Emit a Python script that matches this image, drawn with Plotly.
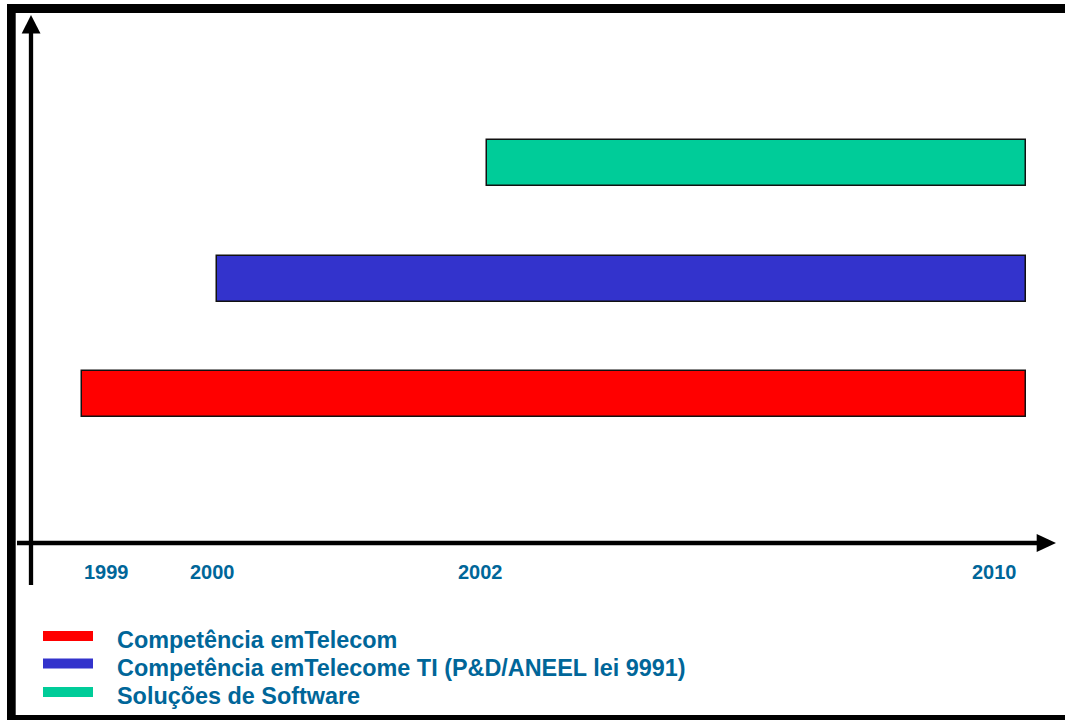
import numpy as np
import plotly.graph_objects as go

# ---------------- data ----------------
series_names = [
    "Competência emTelecom",
    "Competência emTelecome TI (P&D/ANEEL lei 9991)",
    "Soluções de Software",
]
start_years = [1999, 2000, 2002]
end_years = [2010, 2010, 2010]
bar_colors = ["#FF0000", "#3333CC", "#00CC99"]
tick_years = [1999, 2000, 2002, 2010]

# ---------------- scale (timeline compressed after 2002) ----------------
SCALE_YEARS = [1999, 2002, 2010]
SCALE_UNITS = [0, 3, 7]


def t(year):
    return float(np.interp(year, SCALE_YEARS, SCALE_UNITS))


W, H = 1065, 720
TEXT_COLOR = "#006699"
FONT = "Liberation Sans, Arial, sans-serif"


def px(x):
    return x / W


def py(y):
    return 1 - y / H


fig = go.Figure()

for i, (name, s, e, c) in enumerate(zip(series_names, start_years, end_years, bar_colors)):
    fig.add_trace(go.Bar(
        y=[i], x=[t(e) - t(s)], base=[t(s)], orientation="h",
        width=0.4, name=name, showlegend=False,
        marker=dict(color=c, line=dict(color="#111111", width=1.5)),
        hovertemplate=f"{name}<br>{s}–{e}<extra></extra>",
    ))

shapes = []
# outer frame (left, top, bottom)
for x0, y0, x1, y1 in [(7, 4, 15.7, 720), (7, 4, 1065, 13), (7, 715, 1065, 720)]:
    shapes.append(dict(type="rect", xref="paper", yref="paper",
                       x0=px(x0), x1=px(x1), y0=py(y0), y1=py(y1),
                       fillcolor="black", line=dict(width=0), layer="above"))
# vertical axis line + arrow head
shapes.append(dict(type="line", xref="paper", yref="paper",
                   x0=px(31), x1=px(31), y0=py(585), y1=py(32),
                   line=dict(color="black", width=4.3)))
shapes.append(dict(type="path", xref="paper", yref="paper",
                   path=f"M {px(31)},{py(15)} L {px(21.7)},{py(33.5)} L {px(40.5)},{py(33.5)} Z",
                   fillcolor="black", line=dict(width=0)))
# horizontal axis line + arrow head
shapes.append(dict(type="line", xref="paper", yref="paper",
                   x0=px(17), x1=px(1038), y0=py(543), y1=py(543),
                   line=dict(color="black", width=4.5)))
shapes.append(dict(type="path", xref="paper", yref="paper",
                   path=f"M {px(1056)},{py(543)} L {px(1036.7)},{py(534)} L {px(1036.7)},{py(552)} Z",
                   fillcolor="black", line=dict(width=0)))

annotations = []
# year labels
label_style = {1999: ("left", 0), 2000: ("center", -4), 2002: ("center", -6), 2010: ("right", -7)}
for yr in tick_years:
    anchor, shift = label_style[yr]
    annotations.append(dict(
        x=t(yr), xref="x", y=py(571.5), yref="paper",
        text=str(yr), showarrow=False, xanchor=anchor, yanchor="middle", xshift=shift,
        font=dict(family=FONT, size=20, color=TEXT_COLOR, weight="bold"),
    ))

# legend (swatch + text)
legend_rows = [636, 663.5, 692]
for name, c, yc in zip(series_names, bar_colors, legend_rows):
    shapes.append(dict(type="rect", xref="paper", yref="paper",
                       x0=px(43), x1=px(93), y0=py(yc - 5), y1=py(yc + 5),
                       fillcolor=c, line=dict(width=0)))
    annotations.append(dict(
        x=px(114.5), xref="paper", y=py(yc + 4), yref="paper",
        text=name, showarrow=False, xanchor="left", yanchor="middle",
        font=dict(family=FONT, size=23.4, color=TEXT_COLOR, weight="bold"),
    ))

X0, SX = 82.0, 134.9
x_left = -X0 / SX
x_right = (W - X0) / SX
Y1, SY = 278.7, 115.55
fig.update_layout(
    width=W, height=H,
    margin=dict(l=0, r=0, t=0, b=0),
    paper_bgcolor="white", plot_bgcolor="white",
    xaxis=dict(range=[x_left, x_right], visible=False, fixedrange=True),
    yaxis=dict(range=[1 - (H - Y1) / SY, 1 + Y1 / SY], visible=False, fixedrange=True),
    bargap=0,
    shapes=shapes,
    annotations=annotations,
    showlegend=False,
)

fig.write_html("out.html")
